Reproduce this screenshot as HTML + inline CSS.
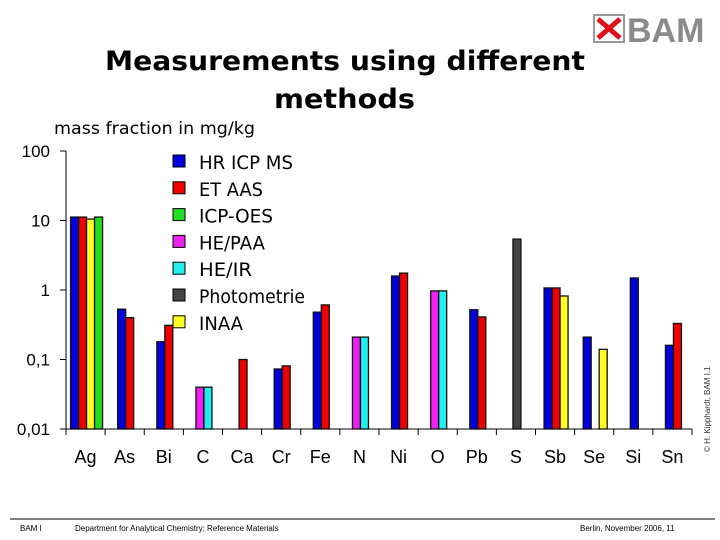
<!DOCTYPE html>
<html><head><meta charset="utf-8"><style>
body{margin:0;background:#fff;}
svg{display:block;font-family:"Liberation Sans","DejaVu Sans",sans-serif;}
.dv{font-family:"DejaVu Sans","Liberation Sans",sans-serif;}
</style></head><body>
<svg id="chart" width="720" height="540" viewBox="0 0 720 540">
<text class="dv" x="105" y="70" font-size="27" font-weight="bold" textLength="480" lengthAdjust="spacingAndGlyphs">Measurements using different</text>
<text class="dv" x="274" y="108" font-size="27" font-weight="bold" textLength="141" lengthAdjust="spacingAndGlyphs">methods</text>
<text class="dv" x="54" y="134" font-size="17" textLength="201" lengthAdjust="spacingAndGlyphs">mass fraction in mg/kg</text>
<g>
<rect x="594" y="15" width="30" height="27" fill="#fff" stroke="#999" stroke-width="2"/>
<path d="M598 19 L620 38 M620 19 L598 38" stroke="#e0101a" stroke-width="5"/>
<text x="627" y="42" font-size="34" font-weight="bold" fill="#8a8a8a">BAM</text>
</g>
<text transform="translate(710,452) rotate(-90)" font-size="8" fill="#333">© H. Kipphardt, BAM I.1</text>
<g id="axes"></g><g id="bars"></g><g id="legend"></g>
<line x1="10" y1="519" x2="715" y2="519" stroke="#000" stroke-width="1"/>
<text x="20" y="531" font-size="8">BAM I</text>
<text x="75" y="531" font-size="8">Department for Analytical Chemistry; Reference Materials</text>
<text x="580" y="531" font-size="8">Berlin, November 2006, 11</text>
</svg>
<script>
const categories=["Ag","As","Bi","C","Ca","Cr","Fe","N","Ni","O","Pb","S","Sb","Se","Si","Sn"];
const seriesNames=["HR ICP MS","ET AAS","ICP-OES","HE/PAA","HE/IR","Photometrie","INAA"];
const legendWidths=[94,64,74,66,53,106,44];
const seriesColors=["#0000dd","#ee0000","#22dd22","#ee22ee","#22eeee","#444444","#ffff22"];
const hrIcpMs=[11.2,0.53,0.18,null,null,0.073,0.48,null,1.59,null,0.52,null,1.07,0.21,1.49,0.16];
const etAas=[11.2,0.40,0.31,null,0.1,0.081,0.61,null,1.75,null,0.41,null,1.07,null,null,0.33];
const icpOes=[11.2,null,null,null,null,null,null,null,null,null,null,null,null,null,null,null];
const hePaa=[null,null,null,0.040,null,null,null,0.21,null,0.97,null,null,null,null,null,null];
const heIr=[null,null,null,0.040,null,null,null,0.21,null,0.97,null,null,null,null,null,null];
const photometrie=[null,null,null,null,null,null,null,null,null,null,null,5.4,null,null,null,null];
const inaa=[10.5,null,null,null,null,null,null,null,null,null,null,null,0.82,0.14,null,null];
const yTicks=[100,10,1,0.1,0.01];
const yTickLabels=["100","10","1","0,1","0,01"];
const NS="http://www.w3.org/2000/svg";
const x0=66,x1=692,yTop=151,yBot=429;
const gw=(x1-x0)/categories.length;
function yScale(v){return yBot-(yBot-yTop)*(Math.log10(v)+2)/4;}
function mk(t,a,p){const e=document.createElementNS(NS,t);for(const k in a)e.setAttribute(k,a[k]);p.appendChild(e);return e;}
const axes=document.getElementById('axes');
const ya=mk('line',{x1:x0,y1:yTop,x2:x0,y2:yBot,stroke:'#000','stroke-width':1},axes);


const xa=mk('line',{x1:x0,y1:yBot,x2:x1,y2:yBot,stroke:'#000','stroke-width':1},axes);


yTicks.forEach((v,i)=>{const y=yScale(v);
mk('line',{x1:x0-6,y1:y,x2:x0,y2:y,stroke:'#000'},axes);
const t=mk('text',{x:50,y:y+6,'text-anchor':'end','font-size':17},axes);t.textContent=yTickLabels[i];

});
categories.forEach((c,i)=>{const x=x0+gw*i;
mk('line',{x1:x,y1:yBot,x2:x,y2:yBot+6,stroke:'#000'},axes);
if(i==categories.length-1)mk('line',{x1:x1,y1:yBot,x2:x1,y2:yBot+6,stroke:'#000'},axes);
const t=mk('text',{x:x+gw/2,y:463,'text-anchor':'middle','font-size':18},axes);t.textContent=c;

});
const series=[hrIcpMs,etAas,inaa,icpOes,hePaa,heIr,photometrie];
const sIdx=[0,1,6,2,3,4,5];
const bars=document.getElementById('bars');
const bw=8;
categories.forEach((c,i)=>{
let present=[];series.forEach((s,k)=>{if(s[i]!=null)present.push(k);});
let minS=Math.min(...present),maxS=Math.max(...present);
let span=(maxS-minS+1)*bw;
let start=x0+gw*i+(gw-span)/2+1;
present.forEach(k=>{const v=series[k][i];const y=yScale(v);
const r=mk('rect',{x:start+(k-minS)*bw,y:y,width:bw,height:yBot-y,fill:seriesColors[sIdx[k]],stroke:'#111','stroke-width':1.3},bars);

});
});
const lg=document.getElementById('legend');
seriesNames.forEach((n,i)=>{const y=162+i*26.8;
const r=mk('rect',{x:173,y:y-7,width:12,height:12,fill:seriesColors[i],stroke:'#000','stroke-width':1},lg);


const t=mk('text',{x:199,y:y+7,'font-size':19,'class':'dv',textLength:legendWidths[i],lengthAdjust:'spacingAndGlyphs'},lg);t.textContent=n;

});
</script>
</body></html>
